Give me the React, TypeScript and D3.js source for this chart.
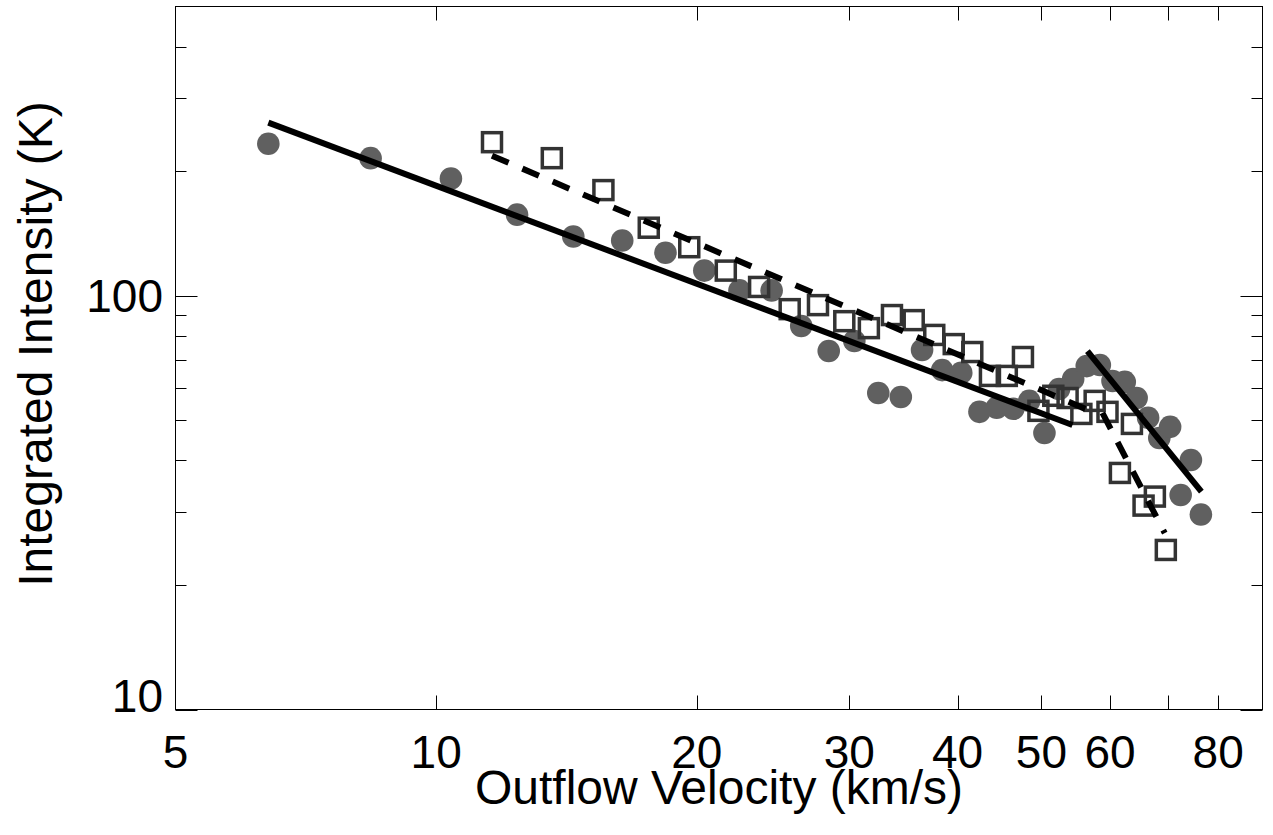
import React, {useEffect, useRef} from 'react';
import * as d3 from "d3";

// filled circles: velocity (km/s) and integrated intensity (K)
const circleVel = [6.4, 8.4, 10.4, 12.4, 14.4, 16.4, 18.4, 20.4, 22.4, 24.4, 26.4, 28.4, 30.4, 32.4, 34.4, 36.4, 38.4, 40.4,
    42.4, 44.4, 46.4, 48.4, 50.4, 52.4, 54.4, 56.4, 58.4, 60.4, 62.4, 64.4, 66.4, 68.4, 70.4, 72.4, 74.4, 76.4];
const circleInt = [233, 215, 192, 157, 139, 136, 127, 115, 103, 103, 84.5, 73.5, 77.7, 58.2, 56.9, 73.9, 66.1, 65.1,
    52.4, 53.6, 53.3, 55.7, 46.6, 59.5, 62.9, 67.6, 68.0, 62.2, 61.9, 56.6, 50.7, 45.3, 48.2, 33.0, 40.1, 29.6];

// open squares
const squareVel = [11.6, 13.6, 15.6, 17.6, 19.6, 21.6, 23.6, 25.6, 27.6, 29.6, 31.6, 33.6, 35.6, 37.6, 39.6,
    41.6, 43.6, 45.6, 47.6, 49.6, 51.6, 53.6, 55.6, 57.6, 59.6, 61.6, 63.6, 65.6, 67.6, 69.6];
const squareInt = [235, 215, 180, 146, 131, 115, 105, 92.8, 94.9, 86.8, 83.5, 89.8, 87.3, 80.4, 76.4,
    73.1, 64.0, 64.0, 71.1, 52.7, 57.3, 56.6, 51.8, 55.7, 52.4, 37.3, 49.0, 31.1, 32.7, 24.3];

// power-law fits [v start, v end, I start, I end]
const solidFits = [[6.4, 54.3, 262, 48.7], [56.5, 76.5, 73.5, 33.6]];
const dashedFits = [[11.6, 56.5, 218, 53], [58.8, 69.4, 52.1, 26.7]];

const xTicks = [10, 20, 30, 40, 50, 60, 70, 80];
const xLabels = [5, 10, 20, 30, 40, 50, 60, 80];
const yMajor = [10, 100];
const yMinor = [20, 30, 40, 50, 60, 70, 80, 90, 200, 300, 400];
const yLabels = [10, 100];

export default function App() {
    const svgRef = useRef<SVGSVGElement>(null);

    useEffect(() => {
        document.body.style.margin = '0';
        const svg = d3.select(svgRef.current);
        svg.selectAll("*").remove();
        const left = 175.5, right = 1262.5, top = 6.5, bottom = 709.5;
        const font = "'Liberation Sans', Arial, Helvetica, sans-serif";

        const x = d3.scaleLog().domain([5, 90]).range([left, right]);
        const y = d3.scaleLog().domain([10, 500]).range([bottom, top]);

        // markers
        svg.append('g')
            .selectAll('circle')
            .data(circleVel)
            .join('circle')
            .attr('cx', d => x(d))
            .attr('cy', (d, i) => y(circleInt[i]))
            .attr('r', 11.3)
            .attr('fill', '#606060');

        const s = 19;
        svg.append('g')
            .selectAll('rect')
            .data(squareVel)
            .join('rect')
            .attr('x', d => x(d) - s / 2)
            .attr('y', (d, i) => y(squareInt[i]) - s / 2)
            .attr('width', s)
            .attr('height', s)
            .attr('fill', 'none')
            .attr('stroke', '#333333')
            .attr('stroke-width', 3.5);

        // fit lines
        const drawFits = (fits, dash) => {
            svg.append('g')
                .selectAll('line')
                .data(fits)
                .join('line')
                .attr('x1', d => x(d[0]))
                .attr('x2', d => x(d[1]))
                .attr('y1', d => y(d[2]))
                .attr('y2', d => y(d[3]))
                .attr('stroke', '#000')
                .attr('stroke-width', 6)
                .attr('stroke-dasharray', dash);
        };
        drawFits(solidFits, null);
        drawFits(dashedFits, '18 15');

        // frame + ticks
        svg.append('rect')
            .attr('x', left).attr('y', top)
            .attr('width', right - left).attr('height', bottom - top)
            .attr('fill', 'none').attr('stroke', '#000').attr('stroke-width', 1);

        const tk = svg.append('g').attr('stroke', '#000').attr('stroke-width', 1);
        xTicks.forEach(v => {
            const px = Math.round(x(v)) + 0.5;
            tk.append('line').attr('x1', px).attr('x2', px).attr('y1', bottom).attr('y2', bottom - 14);
            tk.append('line').attr('x1', px).attr('x2', px).attr('y1', top).attr('y2', top + 14);
        });
        const yTick = (v, len) => {
            const py = Math.round(y(v)) + 0.5;
            tk.append('line').attr('x1', left).attr('x2', left + len).attr('y1', py).attr('y2', py);
            tk.append('line').attr('x1', right).attr('x2', right - len).attr('y1', py).attr('y2', py);
        };
        yMajor.forEach(v => yTick(v, 22));
        yMinor.forEach(v => yTick(v, 11));

        // labels
        const fs = 46;
        svg.append('g')
            .selectAll('text')
            .data(xLabels)
            .join('text')
            .attr('x', d => x(d))
            .attr('y', 768)
            .attr('text-anchor', 'middle')
            .attr('font-family', font)
            .attr('font-size', fs)
            .text(d => d);

        svg.append('g')
            .selectAll('text')
            .data(yLabels)
            .join('text')
            .attr('x', 163)
            .attr('y', d => Math.min(y(d) + fs * 0.358, bottom + 2))
            .attr('text-anchor', 'end')
            .attr('font-family', font)
            .attr('font-size', fs)
            .text(d => d);

        svg.append('text')
            .attr('x', (left + right) / 2)
            .attr('y', 804)
            .attr('text-anchor', 'middle')
            .attr('font-family', font)
            .attr('font-size', 48)
            .text('Outflow Velocity (km/s)');

        svg.append('text')
            .attr('transform', `translate(52, 344) rotate(-90)`)
            .attr('text-anchor', 'middle')
            .attr('font-family', font)
            .attr('font-size', 48)
            .text('Integrated Intensity (K)');
    }, []);

    return (
        <svg ref={svgRef} width={1273} height={835} style={{display: 'block', background: '#fff'}}/>
    );
}
